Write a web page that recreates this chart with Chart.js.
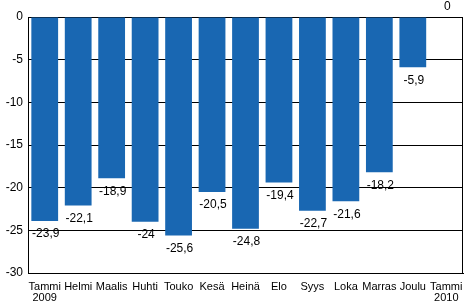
<!DOCTYPE html>
<html>
<head>
<meta charset="utf-8">
<script src="https://cdn.jsdelivr.net/npm/chart.js@4"></script>
<style>
  html, body { margin: 0; padding: 0; background: #fff; }
  #wrap { width: 464px; height: 304px; }
</style>
</head>
<body>
<div id="wrap"><canvas id="chart" width="464" height="304"></canvas></div>
<script>
// Monthly change (%), Jan 2009 - Jan 2010
const months = [
  ["Tammi", "2009"], "Helmi", "Maalis", "Huhti", "Touko", "Kesä",
  "Heinä", "Elo", "Syys", "Loka", "Marras", "Joulu", ["Tammi", "2010"]
];
const values = [-23.9, -22.1, -18.9, -24, -25.6, -20.5, -24.8, -19.4, -22.7, -21.6, -18.2, -5.9, 0];
const yTicks = [0, -5, -10, -15, -20, -25, -30];

const barColor = "#1967b2";
const font = "'Liberation Sans', Arial, sans-serif";

// value labels under each bar (or above when zero), Finnish decimal comma
const valueLabels = {
    id: "valueLabels",
    afterDatasetsDraw(chart) {
        const ctx = chart.ctx;
        const meta = chart.getDatasetMeta(0);
        ctx.save();
        ctx.font = "12px " + font;
        ctx.fillStyle = "#000";
        ctx.textAlign = "center";
        ctx.textBaseline = "middle";
        meta.data.forEach((bar, i) => {
            const v = values[i];
            const txt = String(v).replace(".", ",");
            const y = v < 0 ? bar.y + 13 : bar.y - 10;
            ctx.fillText(txt, bar.x + 1, y);
        });
        ctx.restore();
    }
};

// right border of the plot area
const frame = {
    id: "frame",
    afterDraw(chart) {
        const a = chart.chartArea;
        const ctx = chart.ctx;
        ctx.save();
        ctx.strokeStyle = "#000";
        ctx.lineWidth = 1;
        ctx.beginPath();
        ctx.moveTo(Math.round(a.right) - 0.5, a.top);
        ctx.lineTo(Math.round(a.right) - 0.5, a.bottom);
        ctx.stroke();
        ctx.restore();
    }
};

new Chart(document.getElementById("chart"), {
    type: "bar",
    data: {
        labels: months,
        datasets: [{
            data: values,
            backgroundColor: barColor,
            categoryPercentage: 0.8,
            barPercentage: 1.0
        }]
    },
    options: {
        responsive: false,
        animation: false,
        layout: { padding: { top: 17, right: 1, left: 0, bottom: 0 } },
        plugins: {
            legend: { display: false },
            tooltip: { enabled: false }
        },
        scales: {
            x: {
                afterFit(scale) {
                    scale.height = 31;
                    scale.paddingLeft = 0;
                    scale.paddingRight = 0;
                },
                grid: { display: false, drawTicks: false },
                border: { color: "#000", width: 1 },
                ticks: {
                    color: "#000",
                    font: { family: font, size: 11, lineHeight: 1.0 },
                    maxRotation: 0,
                    autoSkip: false,
                    padding: 8
                }
            },
            y: {
                min: -30,
                max: 0,
                afterFit(scale) { scale.width = 28; },
                afterBuildTicks(scale) { scale.ticks = yTicks.map(v => ({ value: v })); },
                grid: { color: "#000", lineWidth: 1, drawTicks: false },
                border: { color: "#000", width: 1 },
                ticks: {
                    color: "#000",
                    font: { family: font, size: 12 },
                    padding: 5,
                    callback: v => String(v)
                }
            }
        }
    },
    plugins: [valueLabels, frame]
});
</script>
</body>
</html>
